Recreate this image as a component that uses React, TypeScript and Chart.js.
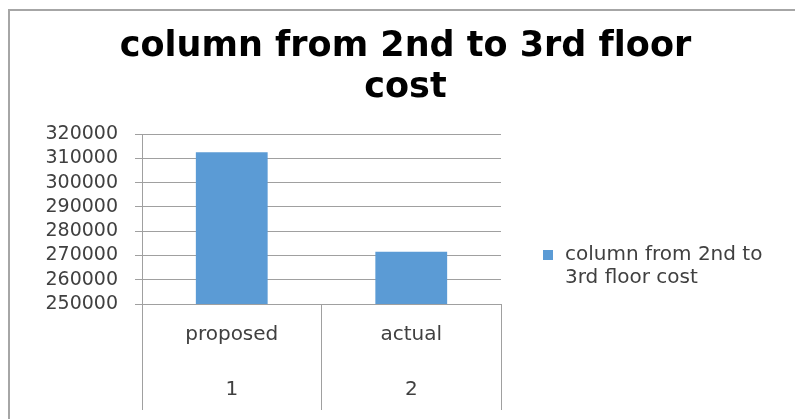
import React, { useEffect, useRef } from "react";
import { Chart, registerables } from "chart.js";

Chart.register(...registerables);

const chartTitle = ["column from 2nd to 3rd f\u200Cloor", "cost"];
const seriesLabel = "column from 2nd to 3rd floor cost";
const categoryNames = ["proposed", "actual"];
const categoryIndex = ["1", "2"];
const costValues = [312500, 271500];
const yMin = 250000;
const yMax = 320000;
const yStep = 10000;

const BAR_COLOR = "#5B9BD5";
const GRID_COLOR = "#A0A0A0";
const TEXT_COLOR = "#404040";
const FONT = "'DejaVu Sans', sans-serif";

const legendPlugin = {
  id: "sideLegend",
  afterDraw(chart: any) {
    const { ctx, chartArea } = chart;
    const ds = chart.data.datasets[0];
    const boxX = chartArea.right + 42;
    const boxY = chartArea.bottom - 54;
    ctx.save();
    ctx.fillStyle = ds.backgroundColor;
    ctx.fillRect(boxX, boxY, 10, 10);
    ctx.font = `20px ${FONT}`;
    ctx.fillStyle = TEXT_COLOR;
    ctx.textBaseline = "middle";
    ctx.textAlign = "left";
    const textX = boxX + 22;
    const maxW = 215;
    const words = String(ds.label).split(" ");
    const lines: string[] = [];
    let cur = "";
    for (const w of words) {
      const test = cur ? cur + " " + w : w;
      if (ctx.measureText(test).width > maxW && cur) {
        lines.push(cur);
        cur = w;
      } else cur = test;
    }
    if (cur) lines.push(cur);
    lines.forEach((l, i) => ctx.fillText(l, textX, boxY + 5 + i * 23));
    ctx.restore();
  },
};

export default function App() {
  const ref = useRef<HTMLCanvasElement>(null);
  useEffect(() => {
    if (!ref.current) return;
    const chart = new Chart(ref.current, {
      type: "bar",
      data: {
        labels: categoryNames.map((n, i) => [n, "", categoryIndex[i]]),
        datasets: [
          {
            label: seriesLabel,
            data: costValues,
            backgroundColor: BAR_COLOR,
            barPercentage: 0.4,
            categoryPercentage: 1,
          },
        ],
      },
      options: {
        animation: false,
        responsive: false,
        maintainAspectRatio: false,
        layout: { padding: { left: 16, right: 0, top: 0, bottom: 0 } },
        plugins: {
          legend: { display: false },
          tooltip: { enabled: false },
          title: {
            display: true,
            text: chartTitle,
            color: "#000000",
            font: { family: FONT, size: 35, weight: "bold", lineHeight: "41px" },
            padding: { top: 26.5, bottom: 25.5 },
          },
        },
        scales: {
          x: {
            grid: {
              drawOnChartArea: false,
              drawTicks: true,
              tickLength: 106,
              color: GRID_COLOR,
              offset: true,
            },
            border: { display: true, color: GRID_COLOR },
            ticks: {
              color: TEXT_COLOR,
              font: { family: FONT, size: 20, lineHeight: "27.5px" },
              padding: -89,
              maxRotation: 0,
              autoSkip: false,
            },
            afterFit(scale: any) {
              scale.height = 115;
            },
          },
          y: {
            min: yMin,
            max: yMax,
            grid: { color: GRID_COLOR, tickLength: 7, drawTicks: true },
            border: { display: true, color: GRID_COLOR },
            ticks: {
              stepSize: yStep,
              autoSkip: false,
              color: TEXT_COLOR,
              font: { family: FONT, size: 19 },
              padding: 17,
              callback: (v: any) => String(v),
            },
            afterFit(scale: any) {
              scale.width = 126;
            },
          },
          y2: {
            position: "right",
            display: true,
            grid: { display: false },
            border: { display: false },
            ticks: { display: false },
            afterFit(scale: any) {
              scale.width = 294;
            },
          },
        },
      },
      plugins: [legendPlugin],
    });
    return () => chart.destroy();
  }, []);

  return (
    <div style={{ position: "fixed", left: 0, top: 0, width: 795, height: 419, overflow: "hidden", background: "#fff" }}>
      <div
        style={{
          position: "absolute",
          left: 8,
          top: 9,
          width: 800,
          height: 420,
          borderLeft: "2px solid #A6A6A6",
          borderTop: "2px solid #A6A6A6",
        }}
      />
      <canvas ref={ref} width={795} height={419} style={{ position: "absolute", left: 0, top: 0 }} />
    </div>
  );
}
